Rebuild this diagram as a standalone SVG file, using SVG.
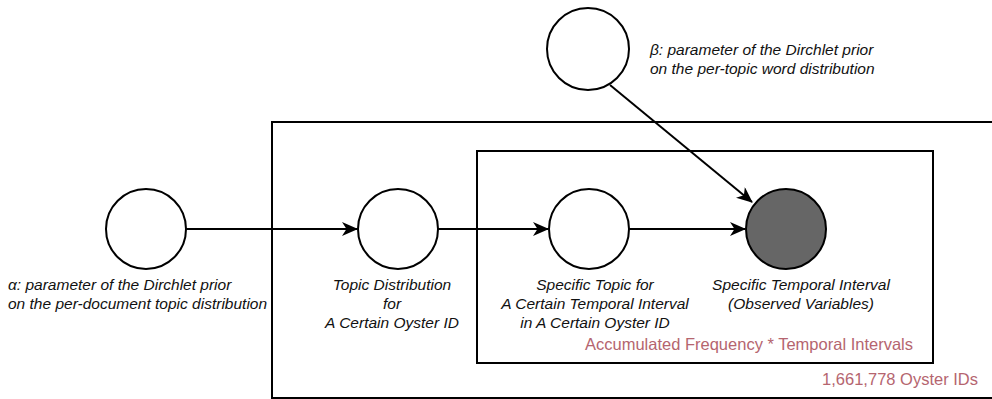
<svg xmlns="http://www.w3.org/2000/svg" width="992" height="399" viewBox="0 0 992 399">
<style>
.plate{fill:none;stroke:#000;stroke-width:2}
.node{fill:#fff;stroke:#000;stroke-width:2}
.obs{fill:#666;stroke:#000;stroke-width:2}
.edge{fill:none;stroke:#000;stroke-width:2}
.lbl{font-family:"Liberation Sans",Arial,sans-serif;font-size:15.5px;font-style:italic;fill:#111}
.plbl{font-family:"Liberation Sans",Arial,sans-serif;font-size:16.5px;fill:#b5656f;text-anchor:end}
</style>
<defs>
<marker id="arr" viewBox="0 0 16 14" refX="15" refY="7" markerWidth="16" markerHeight="14" markerUnits="userSpaceOnUse" orient="auto">
<path d="M0,0 L16,7 L0,14 L4.5,7 Z" fill="#000"/>
</marker>
</defs>
<rect width="992" height="399" fill="#fff"/>
<g id="plate-oyster">
<rect class="plate" x="272" y="122" width="740" height="276"/>
<text class="plbl" x="978" y="385">1,661,778 Oyster IDs</text>
</g>
<g id="plate-interval">
<rect class="plate" x="477" y="151" width="456" height="212"/>
<text class="plbl" x="913" y="350">Accumulated Frequency * Temporal Intervals</text>
</g>
<g id="connectors">
<line class="edge" x1="186" y1="229" x2="357" y2="229" marker-end="url(#arr)"/>
<line class="edge" x1="438" y1="229" x2="548" y2="229" marker-end="url(#arr)"/>
<line class="edge" x1="629" y1="229" x2="745" y2="229" marker-end="url(#arr)"/>
<line class="edge" x1="610" y1="85" x2="752" y2="202" marker-end="url(#arr)"/>
</g>
<g id="alpha">
<circle class="node" cx="146" cy="229" r="40"/>
<text class="lbl" x="8" y="290">α: parameter of the Dirchlet prior</text>
<text class="lbl" x="8" y="309">on the per-document topic distribution</text>
</g>
<g id="beta">
<circle class="node" cx="588" cy="49" r="41"/>
<text class="lbl" x="650" y="55">β: parameter of the Dirchlet prior</text>
<text class="lbl" x="650" y="74">on the per-topic word distribution</text>
</g>
<g id="topic-distribution">
<circle class="node" cx="398" cy="229" r="40"/>
<text class="lbl" text-anchor="middle" x="392" y="290">Topic Distribution</text>
<text class="lbl" text-anchor="middle" x="392" y="309">for</text>
<text class="lbl" text-anchor="middle" x="392" y="328">A Certain Oyster ID</text>
</g>
<g id="specific-topic">
<circle class="node" cx="589" cy="229" r="40"/>
<text class="lbl" text-anchor="middle" x="595" y="290">Specific Topic for</text>
<text class="lbl" text-anchor="middle" x="595" y="309">A Certain Temporal Interval</text>
<text class="lbl" text-anchor="middle" x="595" y="328">in A Certain Oyster ID</text>
</g>
<g id="observed">
<circle class="obs" cx="786" cy="229" r="40"/>
<text class="lbl" text-anchor="middle" x="801" y="290">Specific Temporal Interval</text>
<text class="lbl" text-anchor="middle" x="801" y="309">(Observed Variables)</text>
</g>
</svg>
